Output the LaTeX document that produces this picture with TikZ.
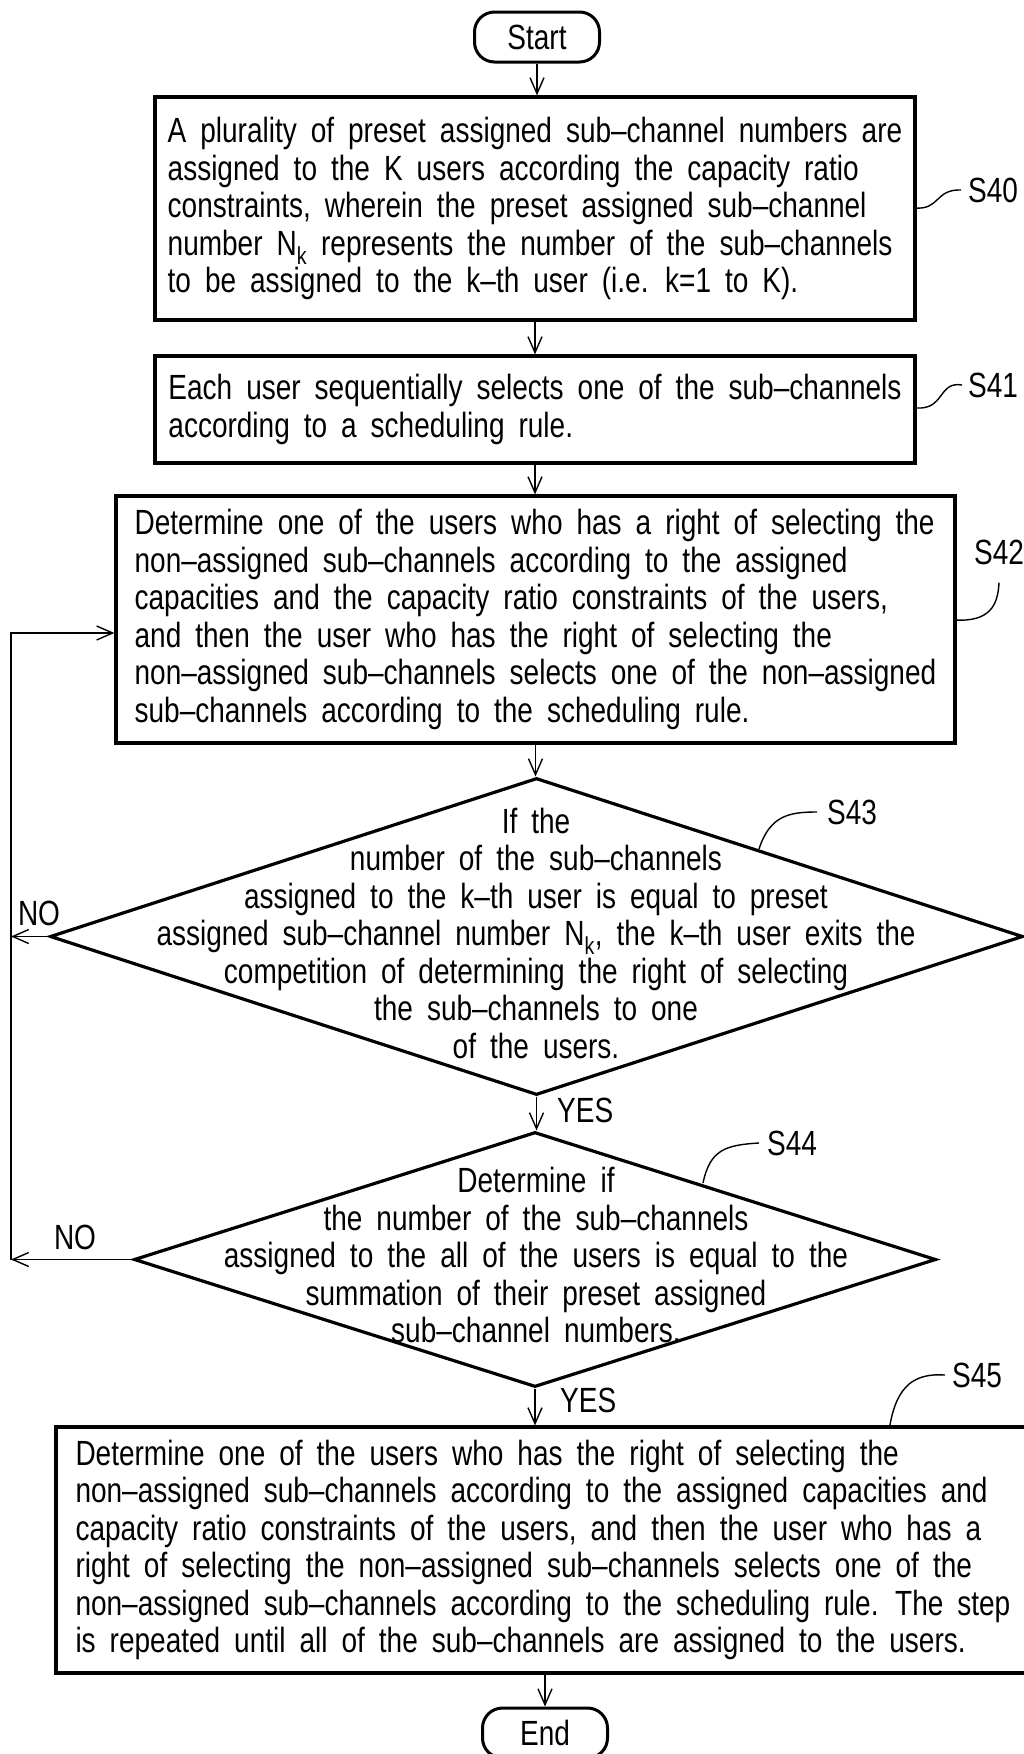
\documentclass[tikz,border=0pt]{standalone}
\usepackage{fontspec}
\setmainfont{Liberation Sans}[FakeStretch=0.8,WordSpace=1.8]
\usepackage{tikz}
\usetikzlibrary{shapes}
\usetikzlibrary{positioning}
\usetikzlibrary{arrows.meta}

\tikzset{
	txt/.style={font=\fontsize{35}{37.5}\selectfont},
	procbox/.style={txt,draw,line width=3.2pt,align=left,inner sep=0pt},
	termbox/.style={txt,draw,line width=3pt,rounded corners=20pt,minimum width=125pt,minimum height=50pt,inner sep=0pt},
	decbox/.style={draw,diamond,line width=3.2pt,inner sep=0pt},
	flow/.style={line width=1.4pt,-{Straight Barb[length=16pt,width=14pt]}},
	lead/.style={line width=1.4pt},
	tag/.style={txt,inner sep=0pt}
}

\begin{document}
\begin{tikzpicture}[x=1pt,y=-1pt]
		\useasboundingbox (0,0) rectangle (1024,1754);
		\node[termbox] (start) at (537,37) {Start};
		\node[procbox,minimum width=760pt,minimum height=223pt] (s40) at (535,208.5) {A plurality of preset assigned sub--channel numbers are\\assigned to the K users according the capacity ratio\\constraints, wherein the preset assigned sub--channel\\number N\textsubscript{k} represents the number of the sub--channels\\to be assigned to the k--th user (i.e. k=1 to K).};
		\node[procbox,minimum width=760pt,minimum height=107pt] (s41) at (535,409.5) {Each user sequentially selects one of the sub--channels\\according to a scheduling rule.};
		\node[procbox,minimum width=839pt,minimum height=247pt] (s42) at (535.5,619.5) {Determine one of the users who has a right of selecting the\\non--assigned sub--channels according to the assigned\\capacities and the capacity ratio constraints of the users,\\and then the user who has the right of selecting the\\non--assigned sub--channels selects one of the non--assigned\\sub--channels according to the scheduling rule.};
		\node[decbox,minimum width=973pt,minimum height=317pt] (s43) at (536.5,936.5) {};
		\node[tag,align=center] (t43) at (536,933) {If the\\number of the sub--channels\\assigned to the k--th user is equal to preset\\assigned sub--channel number N\textsubscript{k}, the k--th user exits the\\competition of determining the right of selecting\\the sub--channels to one\\of the users.};
		\node[decbox,minimum width=802pt,minimum height=255pt] (s44) at (535,1259.5) {};
		\node[tag,align=center] (t44) at (536,1255) {Determine if\\the number of the sub--channels\\assigned to the all of the users is equal to the\\summation of their preset assigned\\sub--channel numbers.};
		\node[procbox,minimum width=974pt,minimum height=246pt] (s45) at (543,1550) {Determine one of the users who has the right of selecting the\\non--assigned sub--channels according to the assigned capacities and\\capacity ratio constraints of the users, and then the user who has a\\right of selecting the non--assigned sub--channels selects one of the\\non--assigned sub--channels according to the scheduling rule. The step\\is repeated until all of the sub--channels are assigned to the users.};
		\node[termbox] (stop) at (545,1733) {End};

		\node[tag,anchor=west] (l40) at (968,190) {S40};
		\node[tag,anchor=west] (l41) at (968,385) {S41};
		\node[tag] (l42) at (999,552) {S42};
		\node[tag,anchor=west] (l43) at (827,812) {S43};
		\node[tag,anchor=west] (l44) at (767,1143) {S44};
		\node[tag,anchor=west] (l45) at (952,1375) {S45};
		\node[tag,anchor=west] (yes1) at (557,1110) {YES};
		\node[tag,anchor=west] (yes2) at (560,1400) {YES};
		\node[tag] (no1) at (39,913) {NO};
		\node[tag] (no2) at (75,1237) {NO};

		\coordinate (back) at (11,633);
		\coordinate (a40) at (915,208);
		\coordinate (a41) at (916,408);
		\coordinate (a42) at (955,620);
		\coordinate (a43) at (759,849);
		\coordinate (a44) at (703,1183);
		\coordinate (a45) at (890,1425);

		\draw[flow] (start.south) -- (start.south |- s40.north);
		\draw[flow] (s40.south) -- (s40.south |- s41.north);
		\draw[flow] (s41.south) -- (s41.south |- s42.north);
		\draw[flow] (s42.south) -- (s42.south |- s43.north);
		\draw[flow] (s43.south) -- (s43.south |- s44.north);
		\draw[flow] (s44.south) -- (s44.south |- s45.north);
		\draw[flow] (s45.south -| stop.north) -- (stop.north);
		\draw[flow] (s43.west) -- (s43.west -| back);
		\draw[flow] (s44.west) -- (s44.west -| back);
		\draw[flow] (back |- s44.west) -- (back) -- (back -| s42.west);

		\draw[lead] (a40) .. controls (940,210) and (935,189) .. ([xshift=-7pt]l40.west);
		\draw[lead] (a41) .. controls (945,410) and (938,381) .. ([xshift=-6pt]l41.west);
		\draw[lead] (a42) .. controls (990,622) and (998,605) .. ([yshift=-18pt]l42.south);
		\draw[lead] (a43) .. controls (770,815) and (790,812) .. ([xshift=-10pt]l43.west);
		\draw[lead] (a44) .. controls (710,1150) and (725,1145) .. ([xshift=-8pt]l44.west);
		\draw[lead] (a45) .. controls (897,1385) and (915,1373) .. ([xshift=-7pt]l45.west);
\end{tikzpicture}
\end{document}
